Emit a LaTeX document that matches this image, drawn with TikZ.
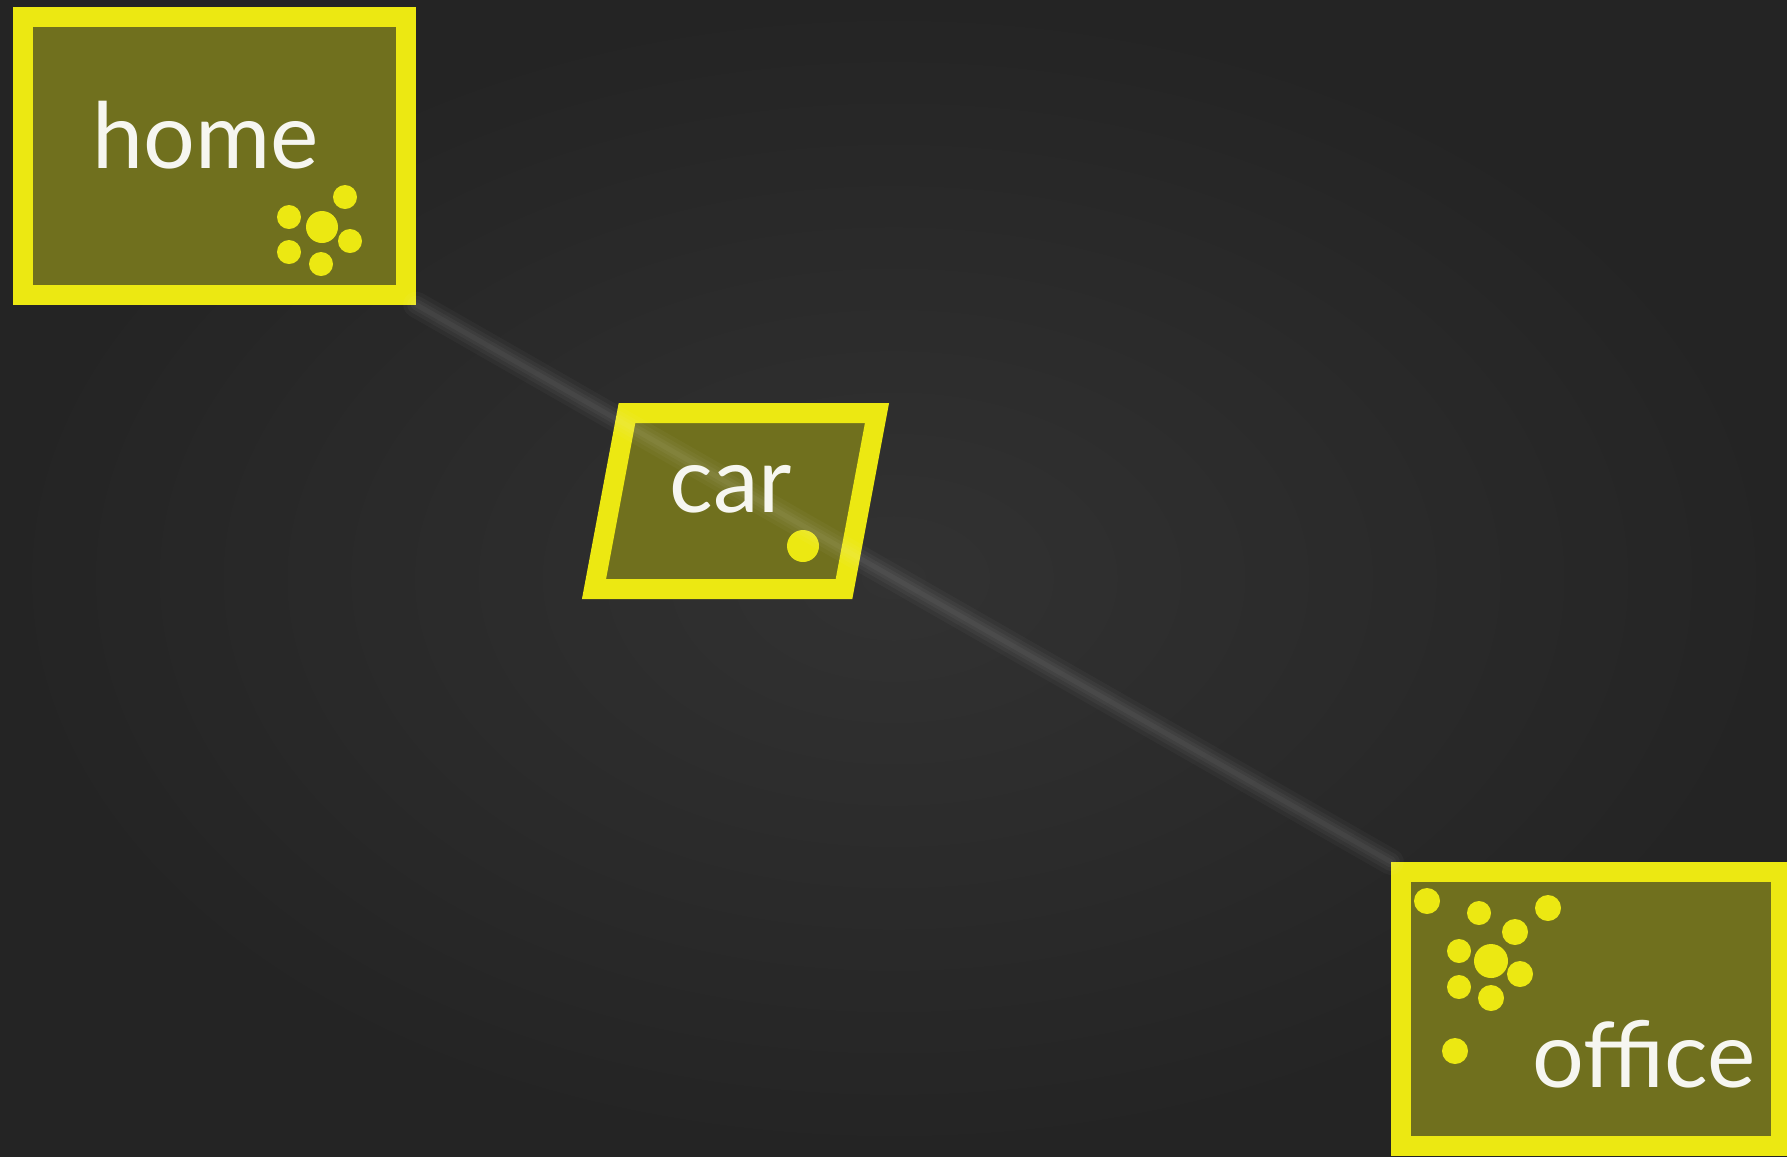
\documentclass[tikz,border=0pt]{standalone}
\usepackage{fontspec}
\setmainfont{Lato}
\definecolor{carbon}{RGB}{36,36,36}
\definecolor{carbonlit}{RGB}{50,50,50}
\definecolor{olive}{RGB}{112,112,30}
\definecolor{lemon}{RGB}{236,232,18}
\definecolor{chalk}{RGB}{246,246,240}
\tikzset{
  place/.style={draw=lemon, fill=olive, line width=0.2cm, inner sep=0pt},
  tag/.style={text=chalk, font=\fontsize{26}{29}\selectfont, anchor=base west, inner sep=0pt},
  spot/.style={fill=lemon},
  trail/.style={white, opacity=#1, line cap=round},
}
\begin{document}
\begin{tikzpicture}[x=0.01cm, y=-0.01cm]
  \useasboundingbox (0,0) rectangle (1787,1156);
  \clip (0,0) rectangle (1787,1156);
  \shade[inner color=carbonlit, outer color=carbon] (0,0) rectangle (1787,1156);

  % places
  \node[place, minimum width=3.83cm, minimum height=2.77cm] (home) at (214.5,156) {};
  \node[place, minimum width=3.80cm, minimum height=2.74cm] (office) at (1591,1009) {};
  \draw[draw=lemon, fill=olive, line width=0.2cm]
    (627,413) -- (877,413) -- (844,589) -- (594,589) -- cycle;
  \coordinate (car) at (735.5,501);

  \node[tag] (homelabel) at (92,168) {home};
  \node[tag] (carlabel) at (669,512) {car};
  \node[tag] (officelabel) at (1532,1087) {office};

  % dots
  \foreach \px/\py/\r in {322/227/16, 345/197/12, 289/217/12, 350/241/12, 289/252/12, 321/264/12}
    \fill[spot] (\px,\py) circle[radius=\r];
  \fill[spot] (803,546) circle[radius=16];
  \foreach \px/\py/\r in {1427/901/13, 1479/913/12, 1548/908/13, 1515/932/13, 1459/951/12,
                          1491/961/17, 1520/974/13, 1459/987/12, 1491/998/13, 1455/1051/13}
    \fill[spot] (\px,\py) circle[radius=\r];

  % trail
  \foreach \w/\o in {0.26cm/0.03, 0.18cm/0.035, 0.11cm/0.04, 0.05cm/0.04}
    \draw[trail=\o, line width=\w] (home.south east) -- (office.north west);
\end{tikzpicture}
\end{document}
